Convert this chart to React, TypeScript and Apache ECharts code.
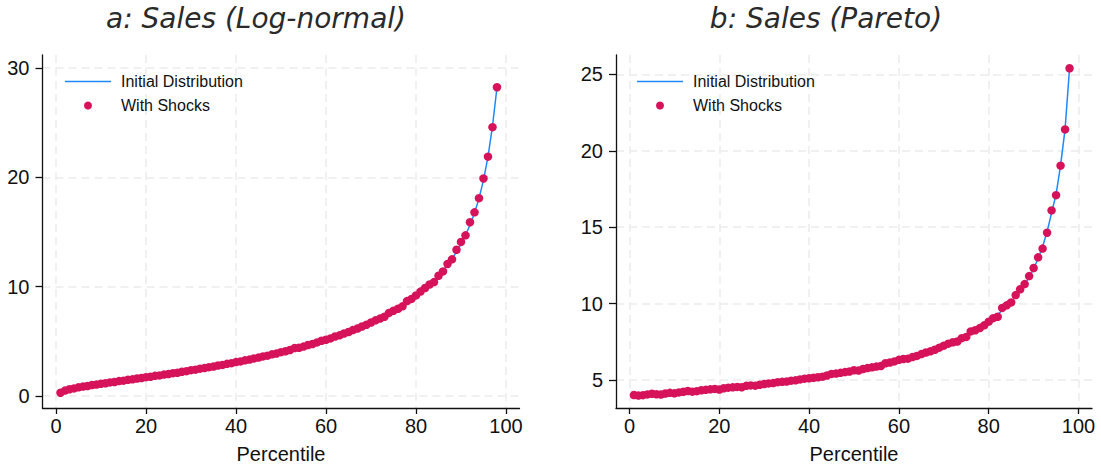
import React, { useEffect, useRef } from "react";
import * as echarts from "echarts";

const percentiles = [
  1, 2, 3, 4, 5, 6, 7, 8, 9, 10, 11, 12, 13, 14, 15, 16, 17, 18, 19, 20,
  21, 22, 23, 24, 25, 26, 27, 28, 29, 30, 31, 32, 33, 34, 35, 36, 37, 38, 39, 40,
  41, 42, 43, 44, 45, 46, 47, 48, 49, 50, 51, 52, 53, 54, 55, 56, 57, 58, 59, 60,
  61, 62, 63, 64, 65, 66, 67, 68, 69, 70, 71, 72, 73, 74, 75, 76, 77, 78, 79, 80,
  81, 82, 83, 84, 85, 86, 87, 88, 89, 90, 91, 92, 93, 94, 95, 96, 97, 98,
];

const lognormalInitial = [
  0.33, 0.5, 0.61, 0.7, 0.78, 0.85, 0.92, 0.99, 1.05, 1.11,
  1.17, 1.23, 1.29, 1.35, 1.41, 1.47, 1.53, 1.59, 1.65, 1.71,
  1.77, 1.83, 1.89, 1.95, 2.02, 2.08, 2.14, 2.21, 2.28, 2.35,
  2.42, 2.49, 2.56, 2.63, 2.7, 2.78, 2.85, 2.93, 3.01, 3.09,
  3.17, 3.25, 3.34, 3.43, 3.52, 3.61, 3.7, 3.8, 3.9, 4.0,
  4.1, 4.2, 4.31, 4.42, 4.53, 4.65, 4.77, 4.89, 5.02, 5.15,
  5.28, 5.42, 5.56, 5.71, 5.86, 6.02, 6.18, 6.35, 6.53, 6.71,
  6.9, 7.1, 7.31, 7.53, 7.76, 8.0, 8.26, 8.53, 8.82, 9.13,
  9.45, 9.8, 10.17, 10.57, 11.0, 11.47, 11.98, 12.55, 13.18, 13.9,
  14.7, 15.65, 16.75, 18.08, 19.75, 21.9, 24.7, 28.25,
];

const lognormalShocks = [
  0.3, 0.49, 0.62, 0.69, 0.79, 0.86, 0.91, 1.0, 1.04, 1.12,
  1.16, 1.24, 1.28, 1.36, 1.4, 1.48, 1.52, 1.6, 1.64, 1.72,
  1.76, 1.84, 1.88, 1.96, 2.01, 2.09, 2.13, 2.22, 2.27, 2.36,
  2.41, 2.5, 2.55, 2.64, 2.69, 2.79, 2.84, 2.94, 3.0, 3.1,
  3.16, 3.26, 3.33, 3.44, 3.51, 3.62, 3.69, 3.81, 3.89, 4.01,
  4.09, 4.21, 4.38, 4.41, 4.52, 4.66, 4.76, 4.9, 5.05, 5.14,
  5.27, 5.44, 5.55, 5.72, 5.85, 6.04, 6.17, 6.36, 6.52, 6.72,
  6.92, 7.08, 7.25, 7.6, 7.8, 7.98, 8.2, 8.68, 8.88, 9.2,
  9.55, 9.88, 10.2, 10.42, 11.0, 11.4, 12.08, 12.5, 13.38, 14.1,
  14.7, 15.9, 16.8, 18.1, 19.9, 21.9, 24.6, 28.25,
];

const paretoInitial = [
  3.98, 4.0, 4.02, 4.04, 4.06, 4.08, 4.11, 4.13, 4.15, 4.17,
  4.2, 4.22, 4.25, 4.27, 4.3, 4.32, 4.35, 4.37, 4.4, 4.43,
  4.46, 4.48, 4.51, 4.54, 4.57, 4.6, 4.63, 4.67, 4.7, 4.73,
  4.77, 4.8, 4.84, 4.87, 4.91, 4.95, 4.99, 5.03, 5.07, 5.11,
  5.16, 5.2, 5.25, 5.29, 5.34, 5.39, 5.44, 5.49, 5.55, 5.6,
  5.66, 5.72, 5.78, 5.84, 5.9, 5.97, 6.04, 6.11, 6.18, 6.26,
  6.34, 6.42, 6.51, 6.6, 6.69, 6.79, 6.89, 7.0, 7.11, 7.23,
  7.35, 7.48, 7.62, 7.77, 7.92, 8.08, 8.26, 8.44, 8.64, 8.85,
  9.08, 9.3, 9.55, 9.82, 10.12, 10.45, 10.82, 11.24, 11.72, 12.28,
  12.95, 13.72, 14.7, 15.95, 17.15, 19.05, 21.4, 25.4,
];

const paretoShocks = [
  4.02, 3.98, 4.01, 4.06, 4.1, 4.07, 4.05, 4.12, 4.16, 4.13,
  4.19, 4.23, 4.28, 4.24, 4.27, 4.33, 4.36, 4.39, 4.42, 4.38,
  4.46, 4.5, 4.52, 4.55, 4.53, 4.62, 4.65, 4.63, 4.69, 4.74,
  4.78, 4.8, 4.86, 4.88, 4.9, 4.96, 4.98, 5.04, 5.09, 5.12,
  5.15, 5.18, 5.22, 5.3, 5.4, 5.42, 5.47, 5.52, 5.56, 5.64,
  5.62, 5.72, 5.78, 5.83, 5.88, 5.92, 6.1, 6.15, 6.22, 6.32,
  6.38, 6.4, 6.5, 6.58, 6.7, 6.8, 6.88, 6.98, 7.12, 7.25,
  7.38, 7.47, 7.52, 7.74, 7.82, 8.18, 8.26, 8.4, 8.58, 8.82,
  9.05, 9.14, 9.72, 9.89, 10.08, 10.56, 10.94, 11.28, 11.8, 12.33,
  13.03, 13.6, 14.64, 16.1, 17.1, 19.03, 21.4, 25.4,
];

const xTicks = [0, 20, 40, 60, 80, 100];
const yTicksA = [0, 10, 20, 30];
const yTicksB = [5, 10, 15, 20, 25];

const titleA = "a: Sales (Log-normal)";
const titleB = "b: Sales (Pareto)";
const xName = "Percentile";
const lineName = "Initial Distribution";
const dotName = "With Shocks";

const FONT = "'Liberation Sans', Arial, sans-serif";
const LINE_COLOR = "#1E88FF";
const DOT_COLOR = "#D6135A";
const GRID_COLOR = "#ebebeb";

function pairs(xs: number[], ys: number[]) {
  return xs.map((x, i) => [x, ys[i]]);
}

function xAxisOpt(gridIndex: number) {
  return {
    type: "value",
    gridIndex,
    min: -3,
    max: 103,
    name: xName,
    nameLocation: "middle",
    nameGap: 36,
    nameTextStyle: { fontSize: 20, color: "#111", fontFamily: FONT },
    axisLine: { show: true, onZero: false, lineStyle: { color: "#111", width: 1.3 } },
    axisTick: { show: true, length: 6, customValues: xTicks, lineStyle: { color: "#111", width: 1.3 } },
    axisLabel: { customValues: xTicks, fontSize: 20, color: "#111", fontFamily: FONT, margin: 8 },
    splitLine: { show: true, lineStyle: { color: GRID_COLOR, width: 1.5, type: [8, 5] } },
  };
}

function yAxisOpt(gridIndex: number, min: number, max: number, ticks: number[]) {
  return {
    type: "value",
    gridIndex,
    min,
    max,
    axisLine: { show: true, onZero: false, lineStyle: { color: "#111", width: 1.3 } },
    axisTick: { show: true, length: 7, customValues: ticks, lineStyle: { color: "#111", width: 1.3 } },
    axisLabel: { customValues: ticks, fontSize: 20, color: "#111", fontFamily: FONT, margin: 13 },
    splitLine: { show: true, lineStyle: { color: GRID_COLOR, width: 1.5, type: [8, 5] } },
  };
}

function legendOpt(left: number) {
  return {
    orient: "vertical",
    left,
    top: 67.5,
    itemWidth: 46,
    itemHeight: 8,
    itemGap: 6,
    selectedMode: false,
    textStyle: { fontSize: 16, lineHeight: 18, color: "#111", fontFamily: FONT, padding: [0, 0, 0, 5] },
    data: [
      { name: lineName, icon: "path://M0,0H46V1.5H0Z", itemStyle: { color: LINE_COLOR } },
      { name: dotName, icon: "circle", itemStyle: { color: DOT_COLOR } },
    ],
  };
}

function titleText(text: string, x: number) {
  return {
    type: "text",
    x,
    y: 18,
    style: {
      text,
      fontSize: 28,
      fontStyle: "italic",
      fontWeight: 200,
      fontFamily: "'DejaVu Sans', sans-serif",
      fill: "#2a2a2a",
      align: "center",
      verticalAlign: "middle",
    },
  };
}

export default function App() {
  const ref = useRef<HTMLDivElement>(null);
  useEffect(() => {
    if (!ref.current) return;
    const chart = echarts.init(ref.current, undefined, { renderer: "svg" });
    chart.setOption({
      animation: false,
      backgroundColor: "#ffffff",
      grid: [
        { left: 42.5, top: 55, width: 477, height: 353 },
        { left: 616, top: 55, width: 476, height: 353 },
      ],
      xAxis: [xAxisOpt(0), xAxisOpt(1)],
      yAxis: [yAxisOpt(0, -1.1, 31.2, yTicksA), yAxisOpt(1, 3.17, 26.27, yTicksB)],
      legend: [legendOpt(60), legendOpt(632)],
      graphic: [titleText(titleA, 256), titleText(titleB, 826)],
      series: [
        {
          name: lineName,
          type: "line",
          xAxisIndex: 0,
          yAxisIndex: 0,
          z: 2,
          data: pairs(percentiles, lognormalInitial),
          symbol: "none",
          lineStyle: { color: LINE_COLOR, width: 1.5 },
          itemStyle: { color: LINE_COLOR },
        },
        {
          name: dotName,
          type: "scatter",
          xAxisIndex: 0,
          yAxisIndex: 0,
          z: 5,
          data: pairs(percentiles, lognormalShocks),
          symbolSize: 8.5,
          itemStyle: { color: DOT_COLOR, opacity: 1 },
        },
        {
          name: lineName,
          type: "line",
          xAxisIndex: 1,
          yAxisIndex: 1,
          z: 2,
          data: pairs(percentiles, paretoInitial),
          symbol: "none",
          lineStyle: { color: LINE_COLOR, width: 1.5 },
          itemStyle: { color: LINE_COLOR },
        },
        {
          name: dotName,
          type: "scatter",
          xAxisIndex: 1,
          yAxisIndex: 1,
          z: 5,
          data: pairs(percentiles, paretoShocks),
          symbolSize: 8.5,
          itemStyle: { color: DOT_COLOR, opacity: 1 },
        },
      ],
    });
    return () => chart.dispose();
  }, []);
  return (
    <div
      ref={ref}
      style={{ position: "fixed", left: 0, top: 0, width: 1101, height: 471, background: "#fff" }}
    />
  );
}
